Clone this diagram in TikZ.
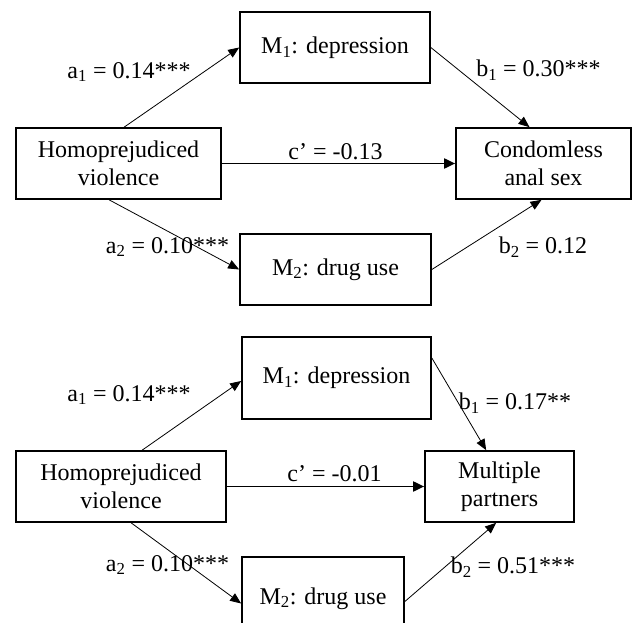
\documentclass[tikz,border=0pt]{standalone}
\usepackage{fontspec}
\setmainfont{Liberation Serif}
\usetikzlibrary{arrows.meta}
\begin{document}
\begin{tikzpicture}[x=1pt,y=-1pt,
  box/.style={draw, line width=1.7pt, inner sep=0pt, align=center,
    font=\fontsize{24}{27.5}\selectfont},
  lab/.style={inner sep=0pt, font=\fontsize{24}{27.5}\selectfont},
  thin arrow/.style={line width=0.8pt, -{Triangle[length=11pt,width=9pt]}},
  thick arrow/.style={line width=1.9pt, -{Triangle[length=11pt,width=10pt]}}]
\useasboundingbox (0,0) rectangle (632,623);
\clip (0,0) rectangle (632,623);
% ---------- top diagram ----------
\node[box, minimum width=205pt, minimum height=71pt] (H1) at (118.5,163.5) {Homoprejudiced\\violence};
\node[box, minimum width=190pt, minimum height=71pt] (M1) at (335,47.5) {M\textsubscript{1}: depression};
\node[box, minimum width=191pt, minimum height=71pt] (M2) at (335.5,269.5) {M\textsubscript{2}: drug use};
\node[box, minimum width=175pt, minimum height=71pt] (C1) at (543.5,163.5) {Condomless\\anal sex};
\draw[thin arrow] ([xshift=109pt]H1.north west) -- (M1.west);
\draw[thin arrow] (M1.east) -- ([xshift=-14pt]C1.north);
\draw[thick arrow] (H1.east) -- (C1.west);
\draw[thin arrow] ([xshift=94pt]H1.south west) -- (M2.west);
\draw[thin arrow] (M2.east) -- ([xshift=-2pt]C1.south);
\node[lab] (la1) at (129,72) {a\textsubscript{1} = 0.14***};
\node[lab] (lb1) at (538.5,70) {b\textsubscript{1} = 0.30***};
\node[lab] (lc1) at (335.5,152) {c’ = -0.13};
\node[lab] (la2) at (167.5,247) {a\textsubscript{2} = 0.10***};
\node[lab] (lb2) at (543,247) {b\textsubscript{2} = 0.12};
% ---------- bottom diagram ----------
\node[box, minimum width=210pt, minimum height=71pt] (H2) at (121,486.5) {Homoprejudiced\\violence};
\node[box, minimum width=189pt, minimum height=82pt] (M1b) at (336.5,378) {M\textsubscript{1}: depression};
\node[box, minimum width=162pt, minimum height=83pt] (M2b) at (323,598.5) {M\textsubscript{2}: drug use};
\node[box, minimum width=149pt, minimum height=71pt] (MP) at (499.5,486.5) {Multiple\\partners};
\draw[thin arrow] ([xshift=127pt]H2.north west) -- ([yshift=-3pt]M1b.west);
\draw[thin arrow] ([yshift=20pt]M1b.east) -- ([xshift=62pt]MP.north west);
\draw[thick arrow] (H2.east) -- (MP.west);
\draw[thin arrow] ([xshift=116pt]H2.south west) -- ([yshift=-5pt]M2b.west);
\draw[thin arrow] ([yshift=-3pt]M2b.east) -- ([xshift=72pt]MP.south west);
\node[lab] (la1b) at (129,395) {a\textsubscript{1} = 0.14***};
\node[lab] (lb1b) at (515,403) {b\textsubscript{1} = 0.17**};
\node[lab] (lc1b) at (334.5,474) {c’ = -0.01};
\node[lab] (la2b) at (167.5,565) {a\textsubscript{2} = 0.10***};
\node[lab] (lb2b) at (513,567) {b\textsubscript{2} = 0.51***};
\end{tikzpicture}
\end{document}
